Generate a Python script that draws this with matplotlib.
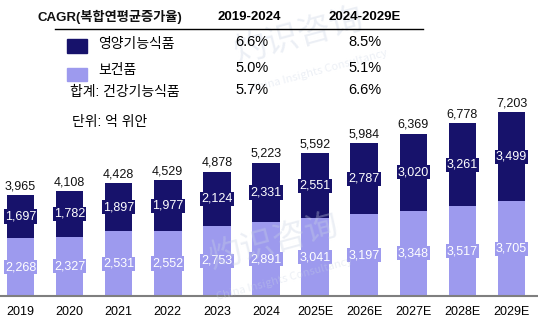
import matplotlib.pyplot as plt
import numpy as np
from matplotlib.patches import Rectangle

plt.rcParams['font.family'] = ['Liberation Sans', 'Noto Sans CJK KR']

years = ['2019', '2020', '2021', '2022', '2023', '2024',
         '2025E', '2026E', '2027E', '2028E', '2029E']
health = [2268, 2327, 2531, 2552, 2753, 2891, 3041, 3197, 3348, 3517, 3705]
nutri = [1697, 1782, 1897, 1977, 2124, 2331, 2551, 2787, 3020, 3261, 3499]
total = [3965, 4108, 4428, 4529, 4878, 5223, 5592, 5984, 6369, 6778, 7203]

cagr_names = ['영양기능식품', '보건품', '합계: 건강기능식품']
cagr_1924 = ['6.6%', '5.0%', '5.7%']
cagr_2429 = ['8.5%', '5.1%', '6.6%']

dark = '#17126b'
light = '#9d9aee'

W, H = 538, 327
fig = plt.figure(figsize=(W / 100, H / 100), dpi=100)
ax = fig.add_axes([0, 31 / H, 1, 296 / H])

x = np.arange(len(years))
ax.bar(x, health, width=0.56, color=light, zorder=2)
ax.bar(x, nutri, width=0.56, bottom=health, color=dark, zorder=2)

for i in range(len(years)):
    ax.text(x[i], health[i] / 2, f'{health[i]:,}', ha='center', va='center',
            color='white', fontsize=9, zorder=3,
            bbox=dict(facecolor=light, edgecolor='none', pad=0.8))
    ax.text(x[i], health[i] + nutri[i] / 2, f'{nutri[i]:,}', ha='center', va='center',
            color='white', fontsize=9, zorder=3,
            bbox=dict(facecolor=dark, edgecolor='none', pad=0.8))
    ax.annotate(f'{total[i]:,}', (x[i], total[i]), xytext=(0, 2),
                textcoords='offset points', ha='center', va='bottom',
                fontsize=9, color='#111111')

ax.set_xlim(-0.418, 10.54)
ax.set_ylim(0, 11600)
ax.set_xticks(x)
ax.set_xticklabels(years, fontsize=9)
ax.tick_params(axis='x', length=0, pad=7)
ax.set_yticks([])
for s in ['top', 'left', 'right']:
    ax.spines[s].set_visible(False)
ax.spines['bottom'].set_color('#7f7f7f')
ax.spines['bottom'].set_linewidth(1.5)
ax.patch.set_alpha(0)

# faint watermark
wm = dict(color='#c9d3e4', alpha=0.35, zorder=0, family=['Noto Sans CJK SC'])
fig.text(230 / W, 1 - 62 / H, '灼识咨询', fontsize=24, rotation=15, **wm)
fig.text(250 / W, 1 - 92 / H, 'China Insights Consultancy', fontsize=8, rotation=15, **wm)
fig.text(205 / W, 1 - 268 / H, '灼识咨询', fontsize=24, rotation=15, **wm)
fig.text(215 / W, 1 - 300 / H, 'China Insights Consultancy', fontsize=8, rotation=15, **wm)

# CAGR table
def fx(px):
    return px / W

def fy(py):
    return 1 - py / H

fig.text(fx(38), fy(17), 'CAGR(복합연평균증가율)', fontsize=9.5, weight='bold',
         va='center', color='#111111')
fig.text(fx(249), fy(17), '2019-2024', fontsize=9.5, weight='bold', ha='center', va='center')
fig.text(fx(365), fy(17), '2024-2029E', fontsize=9.5, weight='bold', ha='center', va='center')
fig.add_artist(plt.Line2D([fx(55), fx(423)], [fy(28.5), fy(28.5)], color='black', lw=1))

fig.add_artist(Rectangle((fx(67), fy(53)), 20 / W, 14 / H, color=dark, transform=fig.transFigure))
fig.add_artist(Rectangle((fx(67), fy(81)), 20 / W, 13 / H, color=light, transform=fig.transFigure))

rows_y = [44, 70, 92]
name_x = [98, 98, 70]
for i in range(3):
    fig.text(fx(name_x[i]), fy(rows_y[i]), cagr_names[i], fontsize=10, va='center')
    fig.text(fx(252), fy(rows_y[i] - 2), cagr_1924[i], fontsize=10.5, ha='center', va='center')
    fig.text(fx(365), fy(rows_y[i] - 2), cagr_2429[i], fontsize=10.5, ha='center', va='center')

fig.text(fx(72), fy(122), '단위: 억 위안', fontsize=10, va='center')

fig.savefig('out.png', dpi=100)
